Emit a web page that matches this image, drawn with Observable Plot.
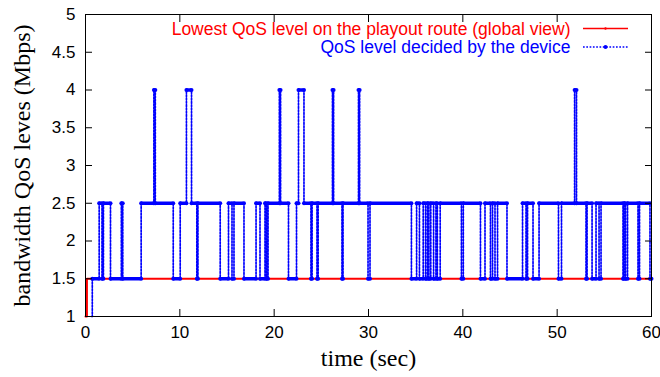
<!DOCTYPE html>
<html><head><meta charset="utf-8">
<script src="https://cdn.jsdelivr.net/npm/d3@7"></script>
<script src="https://cdn.jsdelivr.net/npm/@observablehq/plot@0.6"></script>
<style>body{margin:0;background:#fff} svg{display:block}</style>
</head><body><div id="chart"></div>
<script>
const xTicks = [0, 10, 20, 30, 40, 50, 60];
const yTicks = [1, 1.5, 2, 2.5, 3, 3.5, 4, 4.5, 5];
const yTickLabels = ["1", "1.5", "2", "2.5", "3", "3.5", "4", "4.5", "5"];
const xTitle = "time (sec)";
const yTitle = "bandwidth QoS leves (Mbps)";
const seriesNames = ["Lowest QoS level on the playout route (global view)", "QoS level decided by the device"];
const seriesColors = ["#ff0000", "#0000ff"];

// red: lowest QoS level (global view); level holds from each time to the next
const redTime = [0, 0.15, 60];
const redLevel = [1, 1.5, 1.5];

// blue: QoS level decided by the device; level holds from each time to the next
const blueTime = [0.67, 0.72, 1.45, 1.75, 1.9, 2.65, 3.8, 3.95, 5.9, 7.25, 7.4, 9.3,
  10.04, 10.7, 11.24, 11.8, 11.92, 14.28, 15.16, 15.53, 15.74, 16.8, 18.08, 18.5, 19.03, 19.19, 19.35,
  20.55, 20.68, 21.52, 22.37, 22.58, 23.16, 23.9, 24.02, 24.54, 24.66, 26.18, 26.3, 27.19, 27.3, 28.94, 29.06, 29.95,
  30.16, 34.55, 35.1, 35.4, 35.8, 36.05, 36.25, 36.4, 36.6, 36.9, 37.15, 37.3, 37.6, 39.85,
  40.05, 41.87, 42.35, 42.93, 43.15, 43.41, 43.68, 44.68, 46.33, 46.7, 46.86, 47.44, 48.08,
  50.14, 50.46, 51.85, 52.05, 53.06, 53.17, 53.7, 54.12, 54.44, 54.65, 56.98, 57.1, 57.25, 57.46, 58.57, 58.73, 59.84, 60];
const blueLevel = [1, 1.5, 2.5, 1.5, 2.5, 1.5, 2.5, 1.5, 2.5, 4, 2.5, 1.5,
  2.5, 4, 2.5, 1.5, 2.5, 1.5, 2.5, 1.5, 2.5, 1.5, 2.5, 1.5, 2.5, 1.5, 2.5,
  4, 2.5, 1.5, 2.5, 4, 2.5, 1.5, 2.5, 1.5, 2.5, 4, 2.5, 1.5, 2.5, 4, 2.5, 1.5,
  2.5, 1.5, 2.5, 1.5, 2.5, 1.5, 2.5, 1.5, 2.5, 1.5, 2.5, 1.5, 2.5, 1.5,
  2.5, 1.5, 2.5, 1.5, 2.5, 1.5, 2.5, 1.5, 2.5, 1.5, 2.5, 1.5, 2.5,
  1.5, 2.5, 4, 2.5, 1.5, 2.5, 1.5, 2.5, 1.5, 2.5, 1.5, 2.5, 1.5, 2.5, 1.5, 2.5, 1.5, 1.5];

const red = redTime.map((t, i) => ({t, v: redLevel[i]}));
const blue = blueTime.map((t, i) => ({t, v: blueLevel[i]}));
const blueRuns = blue.slice(0, -1).map((d, i) => ({t0: d.t, t1: blue[i + 1].t, v: d.v})).filter(d => d.v > 1);
const blueDots = blueRuns.flatMap(d => [{t: d.t0, v: d.v}, {t: d.t1, v: d.v}]);

const W = 660, H = 377, mL = 85, mR = 9, mT = 14, mB = 61;
const tickFont = "'Liberation Sans', Arial, Helvetica, sans-serif";
const titleFont = "'Liberation Serif', 'Times New Roman', serif";

const chart = Plot.plot({
  width: W, height: H,
  marginLeft: mL, marginRight: mR, marginTop: mT, marginBottom: mB,
  style: {background: "#fff", color: "#000", overflow: "visible"},
  x: {domain: [0, 60], label: null},
  y: {domain: [1, 5], label: null},
  marks: [
    Plot.line(red, {x: "t", y: "v", curve: "step-after", stroke: seriesColors[0], strokeWidth: 2}),
    Plot.line(blue, {x: "t", y: "v", curve: "step-after", stroke: seriesColors[1], strokeWidth: 1.7, strokeDasharray: "1.7,1.6"}),
    Plot.ruleY(blueRuns, {x1: "t0", x2: "t1", y: "v", stroke: seriesColors[1], strokeWidth: 3.5}),
    Plot.dot(blueDots, {x: "t", y: "v", r: 2, fill: seriesColors[1], stroke: "none"}),
    Plot.frame({stroke: "#000", strokeWidth: 1}),
    Plot.axisY(yTicks, {anchor: "left", tickSize: -7, tickPadding: 17, tickFormat: d => yTickLabels[yTicks.indexOf(d)], fontSize: 17, fontFamily: tickFont, label: null}),
    Plot.axisY(yTicks, {anchor: "right", tickSize: -7, tickFormat: () => "", label: null}),
    Plot.axisX(xTicks, {anchor: "bottom", tickSize: -7, tickPadding: 16, fontSize: 17, fontFamily: tickFont, label: null}),
    Plot.axisX(xTicks, {anchor: "top", tickSize: -7, tickFormat: () => "", label: null}),
    Plot.text([xTitle], {text: d => d, frameAnchor: "bottom", dy: 42, lineAnchor: "middle", textAnchor: "middle", fontSize: 24, fontFamily: titleFont, fill: "#000"}),
    Plot.text([yTitle], {text: d => d, frameAnchor: "left", dx: -63, rotate: -90, lineAnchor: "middle", textAnchor: "middle", fontSize: 24, fontFamily: titleFont, fill: "#000"}),
    Plot.text([seriesNames[0]], {text: d => d, frameAnchor: "top-right", dx: -81, dy: 14.5, lineAnchor: "middle", textAnchor: "end", fontSize: 17.5, fontFamily: tickFont, fill: seriesColors[0]}),
    Plot.text([seriesNames[1]], {text: d => d, frameAnchor: "top-right", dx: -81, dy: 33, lineAnchor: "middle", textAnchor: "end", fontSize: 17.5, fontFamily: tickFont, fill: seriesColors[1]})
  ]
});
document.getElementById("chart").appendChild(chart);

// legend samples
const svg = d3.select(chart);
const fx = W - mR;
const sx0 = fx - 68, sx1 = fx - 23, sxm = (sx0 + sx1) / 2;
[[mT + 14.5, 0], [mT + 33, 1]].forEach(([y, i]) => {
  svg.append("line").attr("x1", sx0).attr("x2", sx1).attr("y1", y).attr("y2", y)
    .attr("stroke", seriesColors[i]).attr("stroke-width", i ? 1.7 : 1.5)
    .attr("stroke-dasharray", i ? "1.7,1.6" : null);
  svg.append("circle").attr("cx", sxm).attr("cy", y).attr("r", i ? 2 : 1.2).attr("fill", seriesColors[i]);
});
</script>
</body></html>
